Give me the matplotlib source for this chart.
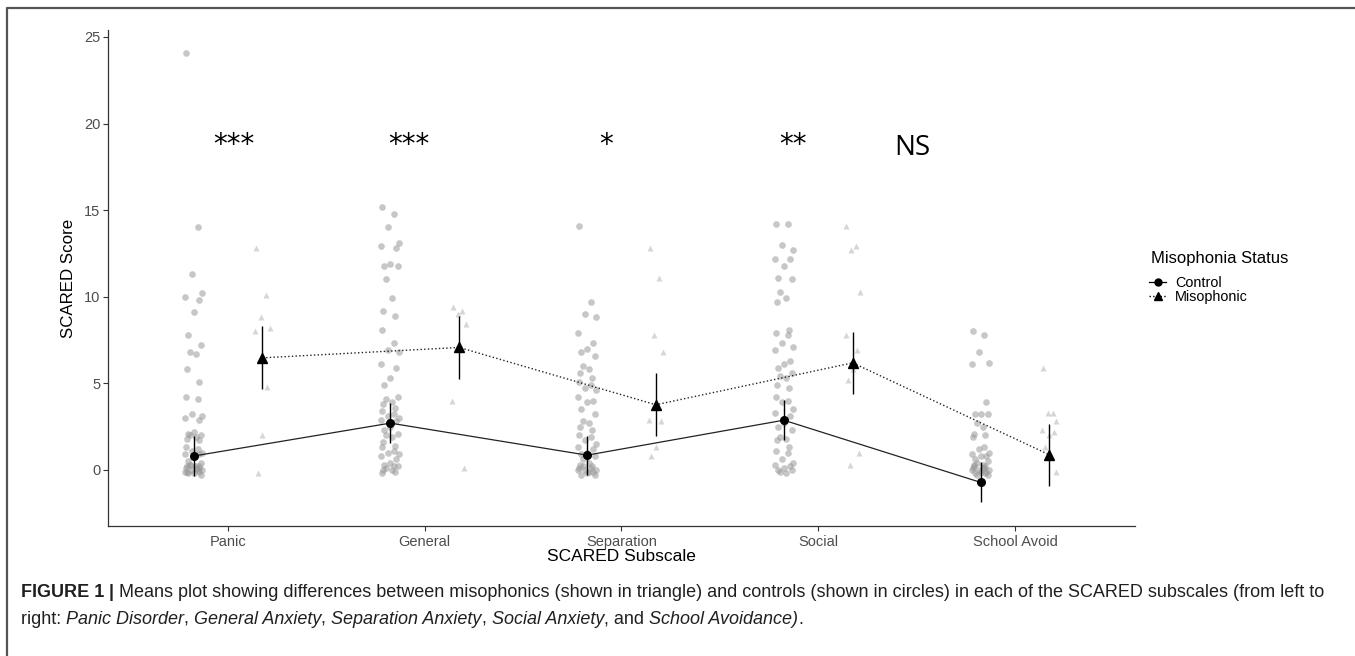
import numpy as np
import matplotlib
matplotlib.use("Agg")
import matplotlib.pyplot as plt
from matplotlib.lines import Line2D

plt.rcParams["font.family"] = ["Liberation Sans", "DejaVu Sans"]

subscales = ["Panic", "General", "Separation", "Social", "School Avoid"]
sig_labels = ["***", "***", "*", "**", "NS"]

# group means and error bar half widths
ctrl_mean = [0.8, 2.7, 0.85, 2.87, -0.72]
ctrl_err = [1.15, 1.15, 1.12, 1.17, 1.15]
miso_mean = [6.47, 7.07, 3.76, 6.18, 0.87]
miso_err = [1.82, 1.80, 1.82, 1.81, 1.78]

# individual scores
ctrl_panic = [24.1, 14.0, 11.3, 10.2, 10.0, 9.8, 9.1, 7.8, 7.2, 6.8, 6.7, 5.8, 5.1, 4.2, 4.1,
              3.2, 3.1, 3.0, 2.9, 2.2, 2.1, 2.0, 2.0, 1.9, 1.8, 1.7, 1.3, 1.2, 1.1, 1.0, 0.9,
              0.9, 0.8, 0.5, 0.4, 0.3, 0.2, 0.2, 0.1, 0.1, 0.0, 0.0, 0.0, -0.1, -0.1, -0.2,
              -0.2, -0.3, 0.3, 0.1, -0.1, 0.2]
ctrl_general = [15.2, 14.8, 14.0, 13.1, 12.9, 12.8, 11.9, 11.8, 11.8, 11.0, 9.9, 9.2, 8.9, 8.1,
                7.3, 6.9, 6.8, 6.1, 5.9, 5.3, 4.9, 4.2, 4.1, 3.9, 3.8, 3.6, 3.4, 3.2, 3.1, 3.0,
                2.9, 2.8, 2.5, 2.3, 2.1, 2.0, 1.9, 1.6, 1.4, 1.3, 1.1, 1.0, 0.9, 0.8, 0.6, 0.4,
                0.3, 0.2, 0.1, 0.0, 0.0, -0.1, -0.2, 0.2]
ctrl_separation = [14.1, 9.7, 9.0, 8.8, 7.9, 7.3, 7.0, 6.8, 6.6, 6.0, 5.8, 5.6, 5.3, 5.1, 4.9,
                   4.7, 4.6, 4.2, 4.0, 3.9, 3.5, 3.2, 2.8, 2.7, 2.5, 2.3, 2.0, 1.9, 1.7, 1.5,
                   1.3, 1.2, 1.0, 0.9, 0.8, 0.6, 0.4, 0.3, 0.2, 0.1, 0.1, 0.0, 0.0, 0.0, -0.1,
                   -0.2, -0.3, -0.3, 0.2, -0.1]
ctrl_social = [14.2, 14.2, 13.0, 12.7, 12.2, 12.2, 11.8, 11.1, 11.0, 10.3, 9.9, 9.7, 8.1, 7.9,
               7.8, 7.3, 7.1, 6.9, 6.3, 6.1, 5.9, 5.6, 5.4, 5.3, 4.9, 4.7, 4.2, 4.0, 3.9, 3.5,
               3.3, 3.1, 2.7, 2.5, 2.3, 1.9, 1.8, 1.7, 1.3, 1.1, 1.0, 0.6, 0.4, 0.3, 0.2, 0.1,
               0.0, 0.0, -0.1, -0.2]
ctrl_school = [8.0, 7.8, 6.8, 6.2, 6.1, 3.9, 3.2, 3.2, 3.2, 2.7, 2.5, 2.1, 2.0, 1.9, 1.3, 1.2,
               1.0, 0.9, 0.8, 0.8, 0.6, 0.5, 0.4, 0.3, 0.2, 0.2, 0.1, 0.1, 0.0, 0.0, 0.0, -0.1,
               -0.1, -0.2, -0.3, -0.3, 0.1, 0.3, -0.2]

miso_panic = [12.8, 10.1, 8.8, 8.2, 8.0, 4.8, 2.0, -0.2]
miso_general = [9.4, 9.2, 9.0, 8.4, 4.0, 0.1]
miso_separation = [12.8, 11.1, 7.8, 6.8, 2.9, 2.8, 1.3, 0.8]
miso_social = [14.1, 12.9, 12.7, 10.3, 7.8, 6.9, 5.8, 5.2, 1.0, 0.3]
miso_school = [5.9, 3.3, 3.3, 2.8, 2.3, 2.2, 2.0, 1.3, -0.1]

ctrl_scores = [ctrl_panic, ctrl_general, ctrl_separation, ctrl_social, ctrl_school]
miso_scores = [miso_panic, miso_general, miso_separation, miso_social, miso_school]

W, H = 1355, 656
fig = plt.figure(figsize=(W / 100, H / 100), dpi=100)
ax = fig.add_axes([108 / W, 1 - 526 / H, (1135 - 108) / W, (526 - 30) / H])

x = np.arange(1, len(subscales) + 1)
dodge = 0.175
jit = np.array([-0.04, 0.02, -0.01, 0.045, -0.045, 0.03, 0.0, -0.03, 0.04, -0.02, 0.01, -0.035, 0.025])


def spread(n, scale):
    return np.resize(jit, n) * scale


pt_col = "#999999"
for i in range(len(subscales)):
    c = np.array(ctrl_scores[i])
    m = np.array(miso_scores[i])
    ax.plot(x[i] - dodge + spread(len(c), 1.0), c, "o", ms=4.8, color=pt_col, alpha=0.55, mec="none", zorder=1)
    ax.plot(x[i] + dodge + spread(len(m), 0.8), m, "^", ms=4.2, color=pt_col, alpha=0.4, mec="none", zorder=1)

ax.plot(x - dodge, ctrl_mean, "-", color="#222222", lw=0.9, zorder=2)
ax.plot(x + dodge, miso_mean, ":", color="#222222", lw=1.0, zorder=2)
ax.errorbar(x - dodge, ctrl_mean, yerr=ctrl_err, fmt="o", ms=5.5, color="black", elinewidth=1.0, capsize=0, zorder=3)
ax.errorbar(x + dodge, miso_mean, yerr=miso_err, fmt="^", ms=7, color="black", elinewidth=1.0, capsize=0, zorder=3)

# significance labels
sig_x = [0.03, -0.08, -0.08, -0.13, -0.52]
for i, lab in enumerate(sig_labels):
    if lab == "NS":
        ax.text(x[i] + sig_x[i], 18.6, lab, ha="center", va="center", fontsize=20,
                family=["Open Sans", "DejaVu Sans"])
    else:
        ax.text(x[i] + sig_x[i], 18.75, lab, ha="center", va="center", fontsize=20,
                family=["DejaVu Sans"])

ax.set_xlim(0.39, 5.61)
ax.set_ylim(-3.24, 25.4)
ax.set_xticks(x)
ax.set_xticklabels(subscales)
ax.set_yticks([0, 5, 10, 15, 20, 25])
ax.tick_params(colors="#333333", labelcolor="#4d4d4d", labelsize=10.5, length=3.5, width=0.8)
ax.tick_params(axis="x", pad=3)
ax.tick_params(axis="y", pad=2)
for s in ["top", "right"]:
    ax.spines[s].set_visible(False)
for s in ["left", "bottom"]:
    ax.spines[s].set_color("#333333")
    ax.spines[s].set_linewidth(0.9)
ax.set_xlabel("SCARED Subscale", fontsize=12.5, labelpad=0)
ax.set_ylabel("SCARED Score", fontsize=12.2, labelpad=6)

# legend: title as its own text, entries below
fig.text(1151 / W, 1 - 258 / H, "Misophonia Status", fontsize=12, ha="left", va="center")
handles = [Line2D([], [], color="black", ls="-", marker="o", ms=5, lw=0.9),
           Line2D([], [], color="black", ls=":", marker="^", ms=6, lw=1.0)]
fig.legend(handles, ["Control", "Misophonic"], loc="upper left",
           bbox_to_anchor=(1139 / W, 1 - 266 / H), frameon=False, fontsize=10.4,
           handlelength=1.2, handletextpad=0.6, labelspacing=0.0, borderpad=0.2)

# outer frame (top and left edges)
fig.add_artist(Line2D([7 / W, 7 / W, 1.0], [0.0, 1 - 8 / H, 1 - 8 / H], transform=fig.transFigure,
                      color="#555555", lw=1.6))

# caption with mixed styles
renderer = fig.canvas.get_renderer()


def write_line(parts, x0, y0):
    xpos = x0
    for txt, style, weight in parts:
        t = fig.text(xpos / W, 1 - y0 / H, txt, fontsize=13.0, style=style, weight=weight,
                     va="baseline", ha="left", color="#231f20")
        xpos = t.get_window_extent(renderer).x1


line1 = [("FIGURE 1", "normal", "bold"), (" | ", "normal", "bold"),
         ("Means plot showing differences between misophonics (shown in triangle) and controls (shown in circles) in each of the SCARED subscales (from left to",
          "normal", "normal")]
line2 = [("right: ", "normal", "normal"), ("Panic Disorder", "italic", "normal"), (", ", "normal", "normal"),
         ("General Anxiety", "italic", "normal"), (", ", "normal", "normal"),
         ("Separation Anxiety", "italic", "normal"), (", ", "normal", "normal"),
         ("Social Anxiety", "italic", "normal"), (", and ", "normal", "normal"),
         ("School Avoidance)", "italic", "normal"), (".", "normal", "normal")]
write_line(line1, 21, 597)
write_line(line2, 21, 624)

fig.savefig("out.png", dpi=100)
